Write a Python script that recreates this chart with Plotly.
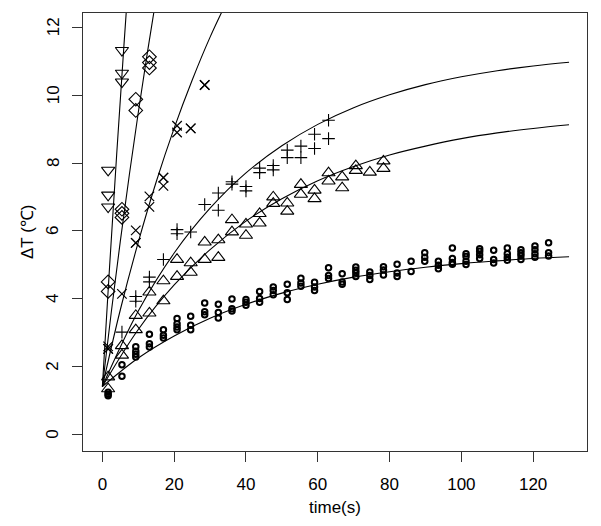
import plotly.graph_objects as go

# ---------------- data ----------------
# series 1: open circles
circ_t = [1.6, 1.6, 1.6,
          5.45, 5.45,
          9.3, 9.3, 9.3, 9.3,
          13.1, 13.1, 13.1,
          17.0, 17.0, 17.0,
          20.8, 20.8, 20.8, 20.8,
          24.6, 24.6, 24.6,
          28.5, 28.5, 28.5,
          32.3, 32.3, 32.3,
          36.1, 36.1, 36.1,
          40.0, 40.0, 40.0,
          43.8, 43.8, 43.8,
          47.6, 47.6, 47.6,
          51.5, 51.5, 51.5,
          55.3, 55.3, 55.3,
          59.1, 59.1, 59.1,
          63.0, 63.0, 63.0,
          66.8, 66.8, 66.8,
          70.6, 70.6, 70.6, 70.6,
          74.5, 74.5, 74.5,
          78.3, 78.3, 78.3,
          82.1, 82.1, 82.1,
          86.0, 86.0,
          89.8, 89.8, 89.8,
          93.6, 93.6, 93.6,
          97.5, 97.5, 97.5, 97.5,
          101.3, 101.3, 101.3, 101.3,
          105.1, 105.1, 105.1, 105.1,
          109.0, 109.0, 109.0,
          112.8, 112.8, 112.8, 112.8,
          116.6, 116.6, 116.6, 116.6,
          120.5, 120.5, 120.5, 120.5,
          124.3, 124.3, 124.3]
circ_dT = [1.25, 1.19, 1.15,
           2.06, 1.72,
           2.59, 2.46, 2.37, 2.29,
           2.96, 2.68, 2.58,
           3.09, 2.93, 2.85,
           3.42, 3.27, 3.17, 3.09,
           3.49, 3.22, 3.09,
           3.88, 3.62, 3.53,
           3.84, 3.60, 3.44,
           4.00, 3.71, 3.64,
           3.98, 3.90, 3.81,
           4.22, 4.01, 3.90,
           4.35, 4.25, 4.12,
           4.43, 4.18, 3.98,
           4.61, 4.47, 4.37,
           4.49, 4.35, 4.25,
           4.92, 4.69, 4.60,
           4.74, 4.50, 4.43,
           4.94, 4.84, 4.76, 4.66,
           4.79, 4.69, 4.57,
           4.95, 4.85, 4.70,
           5.02, 4.76, 4.66,
           5.11, 4.81,
           5.36, 5.23, 5.11,
           5.11, 4.99, 4.89,
           5.50, 5.19, 5.07, 5.02,
           5.33, 5.25, 5.11, 5.01,
           5.48, 5.40, 5.30, 5.19,
           5.43, 5.16, 5.06,
           5.50, 5.33, 5.23, 5.14,
           5.45, 5.36, 5.28, 5.16,
           5.56, 5.45, 5.33, 5.23,
           5.65, 5.36, 5.26]

# series 2: open triangles (up)
tri_t = [1.6, 1.6, 5.45, 5.45, 9.3, 9.3, 13.1, 13.1, 17.0, 17.0,
         20.8, 20.8, 24.6, 24.6, 28.5, 28.5, 32.3, 32.3, 36.1, 36.1,
         40.0, 40.0, 43.8, 43.8, 47.6, 47.6, 51.5, 51.5, 55.3, 55.3,
         59.1, 59.1, 63.0, 63.0, 66.8, 66.8, 70.6, 70.6, 74.5, 78.3, 78.3]
tri_dT = [1.70, 1.35, 2.62, 2.34, 3.51, 3.09, 4.20, 3.58, 4.53, 3.94,
          5.16, 4.66, 5.06, 4.78, 5.67, 5.16, 5.74, 5.22, 6.33, 5.97,
          6.20, 5.87, 6.51, 6.23, 7.00, 6.81, 6.82, 6.58, 7.37, 7.08,
          7.20, 6.95, 7.71, 7.47, 7.59, 7.27, 7.92, 7.78, 7.73, 8.06, 7.84]

# series 3: plus signs
plus_t = [5.45, 9.3, 9.3, 13.1, 13.1, 17.0, 20.8, 20.8, 24.6, 28.5,
          32.3, 32.3, 36.1, 36.1, 40.0, 40.0, 43.8, 43.8, 47.6, 47.6,
          51.5, 51.5, 55.3, 55.3, 59.1, 59.1, 63.0, 63.0]
plus_dT = [3.02, 4.07, 3.93, 4.64, 4.50, 5.16, 6.04, 5.92, 5.97, 6.78,
           7.12, 6.61, 7.45, 7.38, 7.31, 7.18, 7.85, 7.72, 7.93, 7.80,
           8.38, 8.16, 8.50, 8.16, 8.85, 8.43, 9.26, 8.72]

# series 4: crosses
cross_t = [1.6, 1.6, 1.6, 5.45, 9.3, 9.3, 9.3, 13.1, 13.1, 17.0, 17.0, 17.0,
           20.8, 20.8, 24.6, 24.6, 28.5, 28.5]
cross_dT = [2.60, 2.53, 2.53, 4.15, 6.02, 5.65, 5.65, 7.02, 6.71, 7.57, 7.57, 7.33,
            9.10, 8.90, 9.02, 9.02, 10.30, 10.30]

# series 5: open diamonds
diam_t = [1.6, 1.6, 5.45, 5.45, 5.45, 9.3, 9.3, 13.1, 13.1, 13.1]
diam_dT = [4.50, 4.22, 6.64, 6.52, 6.40, 9.88, 9.55, 11.13, 10.96, 10.80]

# series 6: open triangles (down)
itri_t = [1.6, 1.6, 1.6, 5.45, 5.45, 5.45]
itri_dT = [7.79, 7.06, 6.71, 11.32, 10.65, 10.39]

# fitted curves
fit_circ_t = [0, 10, 20, 30, 40, 50, 60, 70, 80, 90, 100, 110, 120, 130]
fit_circ_dT = [1.42, 2.26, 2.91, 3.43, 3.84, 4.17, 4.43, 4.64, 4.80, 4.93, 5.04, 5.12, 5.19, 5.24]
fit_tri_t = [0, 10, 20, 30, 40, 50, 60, 70, 80, 90, 100, 110, 120, 130]
fit_tri_dT = [1.42, 3.10, 4.41, 5.45, 6.29, 6.95, 7.48, 7.90, 8.24, 8.50, 8.72, 8.89, 9.02, 9.13]
fit_plus_t = [0, 10, 20, 30, 40, 50, 60, 70, 80, 90, 100, 110, 120, 130]
fit_plus_dT = [1.42, 3.64, 5.35, 6.67, 7.71, 8.51, 9.14, 9.63, 10.01, 10.31, 10.54, 10.72, 10.86, 10.97]
fit_cross_t = [0, 5, 10, 15, 20, 25, 30, 35]
fit_cross_dT = [1.42, 3.68, 5.67, 7.45, 9.03, 10.44, 11.71, 12.83]
fit_diam_t = [0, 2.5, 5, 7.5, 10, 12.5, 15]
fit_diam_dT = [1.42, 3.63, 5.70, 7.65, 9.49, 11.23, 12.88]
fit_itri_t = [0, 2, 4, 6, 8]
fit_itri_dT = [1.42, 4.94, 8.28, 11.46, 14.51]

x_ticks = [0, 20, 40, 60, 80, 100, 120]
y_ticks = [0, 2, 4, 6, 8, 10, 12]

# ---------------- figure ----------------
FONT = "Liberation Sans, Arial, Helvetica, sans-serif"
PLOT_W = 601 - 83 - 14
fig = go.Figure()

for ft, fy in [(fit_circ_t, fit_circ_dT), (fit_tri_t, fit_tri_dT), (fit_plus_t, fit_plus_dT),
               (fit_cross_t, fit_cross_dT), (fit_diam_t, fit_diam_dT), (fit_itri_t, fit_itri_dT)]:
    fig.add_trace(go.Scatter(x=ft, y=fy, mode="lines",
                             line=dict(color="black", width=1.1, shape="spline", smoothing=1.0),
                             hoverinfo="skip", showlegend=False))

def pts(x, y, symbol, size, lw):
    fig.add_trace(go.Scatter(x=x, y=y, mode="markers", showlegend=False,
                             marker=dict(symbol=symbol, size=size, color="black",
                                         line=dict(color="black", width=lw))))

pts(circ_t, circ_dT, "circle-open", 5.5, 2.0)
pts(tri_t, tri_dT, "triangle-up-open", 11.5, 1.1)
pts(plus_t, plus_dT, "cross-thin-open", 9, 1.1)
pts(cross_t, cross_dT, "x-thin-open", 9.5, 1.2)
pts(diam_t, diam_dT, "diamond-open", 10.5, 1.1)
pts(itri_t, itri_dT, "triangle-down-open", 11.5, 1.1)

axis_common = dict(showline=True, linecolor="#333333", linewidth=1, mirror=True,
                   ticks="outside", ticklen=10, tickwidth=1, tickcolor="#333333",
                   showgrid=False, zeroline=False, automargin=False,
                   tickfont=dict(family=FONT, size=17, color="black"))

fig.update_xaxes(range=[-5.4, 135.0], tickvals=x_ticks, ticktext=[str(v) for v in x_ticks],
                 ticklabelstandoff=8,
                 **axis_common)
fig.update_yaxes(range=[-0.48, 12.42], tickvals=y_ticks, showticklabels=False,
                 **axis_common)

# rotated y tick labels (R style, parallel to the axis)
for v in y_ticks:
    fig.add_annotation(text=str(v), xref="paper", yref="y", x=-30 / PLOT_W, y=v,
                       textangle=-90, xanchor="center", yanchor="middle", showarrow=False,
                       font=dict(family=FONT, size=17, color="black"))

# axis titles
fig.add_annotation(text="time(s)", xref="paper", yref="paper", x=0.5, y=-0.13,
                   yanchor="middle", xanchor="center", showarrow=False,
                   font=dict(family=FONT, size=17, color="black"))
fig.add_annotation(text="ΔT (℃)", xref="paper", yref="paper", x=-56 / PLOT_W, y=0.5,
                   textangle=-90, xanchor="center", yanchor="middle", showarrow=False,
                   font=dict(family=FONT, size=17, color="black"))

fig.update_layout(width=601, height=526, plot_bgcolor="white", paper_bgcolor="white",
                  margin=dict(l=83, r=14, t=13, b=75),
                  font=dict(family=FONT, size=17, color="black"))

fig.write_html("out.html", config={"displayModeBar": False},
               post_script="document.body.style.margin='0';")
